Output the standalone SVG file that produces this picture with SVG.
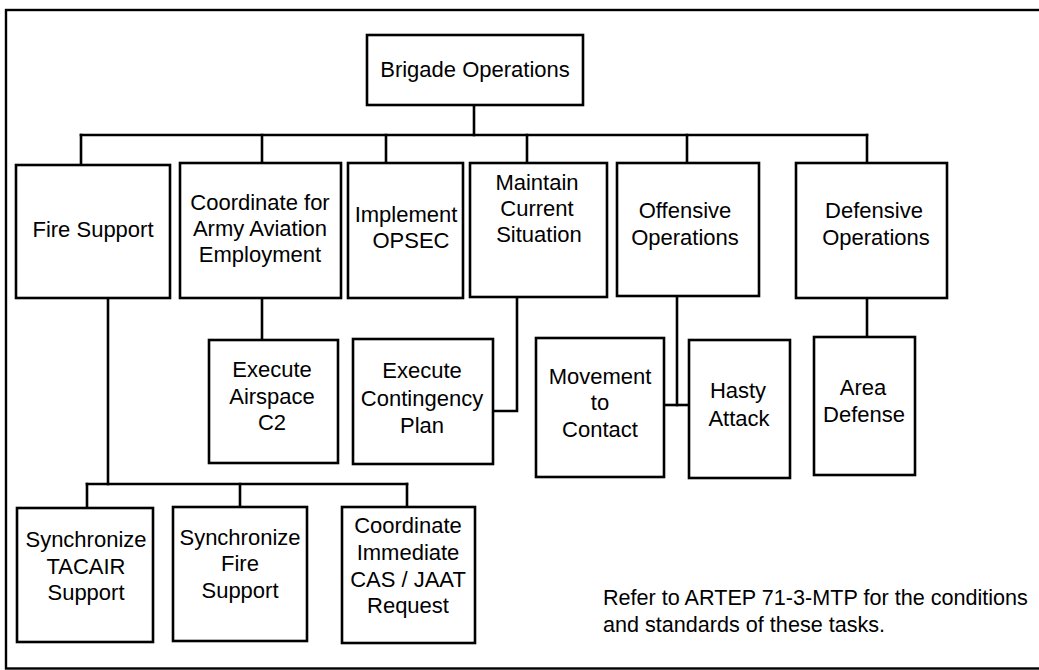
<svg xmlns="http://www.w3.org/2000/svg" width="1039" height="670" viewBox="0 0 1039 670">
  <style>
    .box { fill: #ffffff; stroke: #000000; stroke-width: 2.6; }
    .wire { fill: none; stroke: #000000; stroke-width: 2.6; stroke-linecap: square; }
    .frame { fill: none; stroke: #000000; stroke-width: 2.4; }
    text { font-family: "Liberation Sans", Arial, sans-serif; font-size: 22px; fill: #000000; text-anchor: middle; }
    .note { text-anchor: start; font-size: 21.6px; }
  </style>

  <rect width="1039" height="670" fill="#ffffff"/>
  <!-- page frame (right edge runs off the sheet) -->
  <rect class="frame" x="6" y="10" width="1045" height="658.5"/>

  <g id="connectors">
    <path class="wire" d="M474 105 V135"/>
    <path class="wire" d="M81 135 H867"/>
    <path class="wire" d="M81 135 V165 M262 135 V163 M386 135 V163 M527 135 V163 M687 135 V163 M867 135 V163"/>
    <path class="wire" d="M108 298 V484"/>
    <path class="wire" d="M87 484 H407"/>
    <path class="wire" d="M87 484 V508 M240 484 V507 M407 484 V507"/>
    <path class="wire" d="M262 298 V340"/>
    <path class="wire" d="M517 297 V411 H493"/>
    <path class="wire" d="M677 296 V405"/>
    <path class="wire" d="M664 405 H689"/>
    <path class="wire" d="M867 298 V337"/>
  </g>

  <g id="brigade-operations">
    <rect class="box" x="367" y="35" width="216" height="70"/>
    <text x="475" y="77">Brigade Operations</text>
  </g>

  <g id="fire-support">
    <rect class="box" x="16" y="165" width="154" height="133"/>
    <text x="93" y="237">Fire Support</text>
  </g>

  <g id="coordinate-army-aviation">
    <rect class="box" x="180" y="163" width="161" height="135"/>
    <text x="260" y="210">Coordinate for</text>
    <text x="260" y="236">Army Aviation</text>
    <text x="260" y="262">Employment</text>
  </g>

  <g id="implement-opsec">
    <rect class="box" x="348" y="163" width="115" height="135"/>
    <text x="406" y="222">Implement</text>
    <text x="411" y="248">OPSEC</text>
  </g>

  <g id="maintain-current-situation">
    <rect class="box" x="470" y="163" width="137" height="134"/>
    <text x="537" y="190">Maintain</text>
    <text x="537" y="216">Current</text>
    <text x="539" y="242">Situation</text>
  </g>

  <g id="offensive-operations">
    <rect class="box" x="617" y="163" width="142" height="133"/>
    <text x="685" y="218">Offensive</text>
    <text x="685" y="245">Operations</text>
  </g>

  <g id="defensive-operations">
    <rect class="box" x="796" y="163" width="151" height="135"/>
    <text x="874" y="218">Defensive</text>
    <text x="876" y="245">Operations</text>
  </g>

  <g id="execute-airspace-c2">
    <rect class="box" x="209" y="340" width="129" height="123"/>
    <text x="272" y="377">Execute</text>
    <text x="272" y="404">Airspace</text>
    <text x="272" y="430">C2</text>
  </g>

  <g id="execute-contingency-plan">
    <rect class="box" x="353" y="339" width="140" height="125"/>
    <text x="422" y="378">Execute</text>
    <text x="422" y="406">Contingency</text>
    <text x="422" y="433">Plan</text>
  </g>

  <g id="movement-to-contact">
    <rect class="box" x="536" y="338" width="128" height="139"/>
    <text x="600" y="384">Movement</text>
    <text x="600" y="410">to</text>
    <text x="600" y="437">Contact</text>
  </g>

  <g id="hasty-attack">
    <rect class="box" x="689" y="340" width="101" height="138"/>
    <text x="738" y="398">Hasty</text>
    <text x="739" y="426">Attack</text>
  </g>

  <g id="area-defense">
    <rect class="box" x="814" y="337" width="101" height="138"/>
    <text x="863" y="395">Area</text>
    <text x="864" y="422">Defense</text>
  </g>

  <g id="synchronize-tacair-support">
    <rect class="box" x="17" y="508" width="136" height="134"/>
    <text x="86" y="547">Synchronize</text>
    <text x="86" y="574">TACAIR</text>
    <text x="86" y="600">Support</text>
  </g>

  <g id="synchronize-fire-support">
    <rect class="box" x="173" y="507" width="134" height="134"/>
    <text x="240" y="545">Synchronize</text>
    <text x="240" y="571">Fire</text>
    <text x="240" y="598">Support</text>
  </g>

  <g id="coordinate-immediate-cas-jaat">
    <rect class="box" x="342" y="507" width="133" height="136"/>
    <text x="408" y="533">Coordinate</text>
    <text x="408" y="560">Immediate</text>
    <text x="408" y="587">CAS / JAAT</text>
    <text x="408" y="613">Request</text>
  </g>

  <g id="note">
    <text class="note" x="603" y="605">Refer to ARTEP 71-3-MTP for the conditions</text>
    <text class="note" x="603" y="632">and standards of these tasks.</text>
  </g>
</svg>
